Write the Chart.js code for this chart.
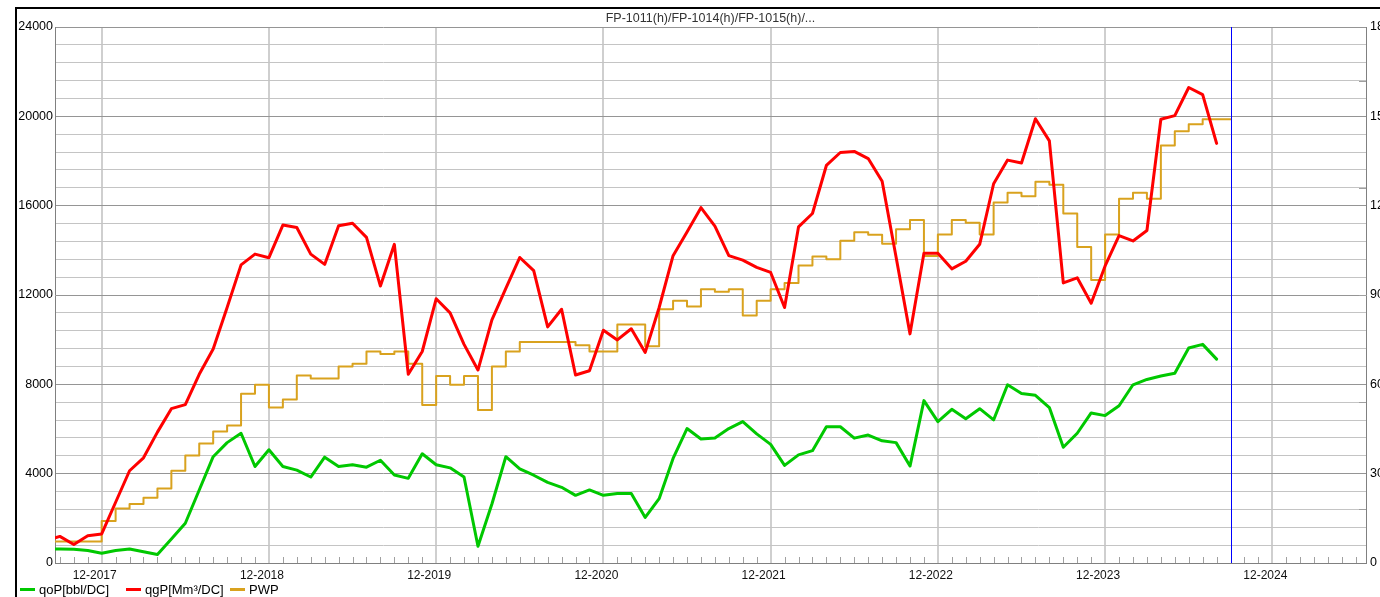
<!DOCTYPE html>
<html><head><meta charset="utf-8">
<script src="https://cdn.jsdelivr.net/npm/chart.js@4.4.1/dist/chart.umd.min.js"></script>
<style>
html,body{margin:0;padding:0;overflow:hidden;background:#fff;width:1380px;height:597px}
#wrap{position:absolute;left:0;top:0;width:1400px;height:597px}
</style>
</head><body><div id="wrap"><canvas id="c" width="1400" height="597"></canvas></div>
<script>
const chartTitle = 'FP-1011(h)/FP-1014(h)/FP-1015(h)/...';
const seriesLabels = ['qoP[bbl/DC]', 'qgP[Mm³/DC]', 'PWP'];
const months = [
 '2017-08','2017-09','2017-10','2017-11','2017-12',
 '2018-01','2018-02','2018-03','2018-04','2018-05','2018-06','2018-07','2018-08','2018-09','2018-10','2018-11','2018-12',
 '2019-01','2019-02','2019-03','2019-04','2019-05','2019-06','2019-07','2019-08','2019-09','2019-10','2019-11','2019-12',
 '2020-01','2020-02','2020-03','2020-04','2020-05','2020-06','2020-07','2020-08','2020-09','2020-10','2020-11','2020-12',
 '2021-01','2021-02','2021-03','2021-04','2021-05','2021-06','2021-07','2021-08','2021-09','2021-10','2021-11','2021-12',
 '2022-01','2022-02','2022-03','2022-04','2022-05','2022-06','2022-07','2022-08','2022-09','2022-10','2022-11','2022-12',
 '2023-01','2023-02','2023-03','2023-04','2023-05','2023-06','2023-07','2023-08','2023-09','2023-10','2023-11','2023-12',
 '2024-01','2024-02','2024-03','2024-04','2024-05','2024-06','2024-07','2024-08','2024-09'
];
// qoP [bbl/DC] - left axis (2017-08 .. 2024-08)
const oilRate = [
 630,630,620,560,440,560,630,500,380,1070,
 1780,3270,4760,5390,5810,4320,5070,4320,4160,3850,
 4740,4320,4400,4290,4600,3940,3790,4890,4400,4260,
 3850,750,2640,4760,4210,3930,3610,3390,3030,3270,
 3030,3110,3110,2040,2880,4680,6020,5550,5600,6020,
 6330,5780,5310,4370,4840,5030,6100,6100,5590,5730,
 5470,5390,4340,7270,6330,6880,6460,6910,6410,7980,
 7590,7510,6960,5180,5810,6720,6600,7040,7980,8220,
 8370,8500,9630,9790,9130
];
// qgP [Mm³/DC] - left axis (2017-08 .. 2024-08)
const gasRate = [
 1000,1190,830,1220,1300,2720,4130,4710,5860,6910,
 7090,8450,9580,11440,13350,13830,13670,15130,15020,13830,
 13370,15100,15210,14580,12400,14270,8450,9470,11830,11200,
 9790,8640,10890,12300,13680,13090,10570,11360,8420,8610,
 10420,9990,10490,9430,11440,13760,14820,15910,15080,13760,
 13560,13240,13010,11440,15050,15650,17800,18380,18430,18110,
 17090,13700,10260,13870,13870,13170,13510,14270,16980,18040,
 17910,19890,18900,12540,12770,11630,13300,14660,14420,14890,
 19870,20030,21290,20970,18790
];
// PWP - right axis (2017-08 .. 2024-09), step values
const pwp = [
 72,72,72,72,141,183,198,219,250,310,
 361,401,442,462,568,599,522,549,630,620,
 620,660,669,710,702,710,669,531,628,599,
 628,514,660,710,742,742,742,742,731,710,
 710,801,801,728,852,881,861,919,911,919,
 831,881,919,940,999,1029,1020,1082,1111,1102,
 1072,1121,1152,1031,1103,1152,1143,1103,1211,1243,
 1232,1280,1270,1174,1061,950,1103,1223,1243,1223,
 1402,1450,1473,1490,1490,1490
];
const xTickMonths = ['2017-12','2018-12','2019-12','2020-12','2021-12','2022-12','2023-12','2024-12'];
const leftTicks = [0,800,1600,2400,3200,4000,4800,5600,6400,7200,8000,8800,9600,10400,11200,12000,12800,13600,14400,15200,16000,16800,17600,18400,19200,20000,20800,21600,22400,23200,24000];
const leftLabelStep = 4000;
const rightTicks = [0,300,600,900,1200,1500,1800];
const rightMinorMarks = [180,540,900,1260,1620];
const forecastStart = '2024-09';

const mi = s => (parseInt(s.slice(0,4),10) - 2017) * 12 + parseInt(s.slice(5,7),10) - 1;
const FONT = '"Liberation Sans", Arial, sans-serif';
Chart.defaults.font.family = FONT;

const decor = {
  id: 'decor',
  beforeDraw(chart) {
    const ctx = chart.ctx;
    ctx.save();
    ctx.fillStyle = '#fff';
    ctx.fillRect(0, 0, chart.width, chart.height);
    ctx.fillStyle = '#000';
    ctx.fillRect(16, 7, chart.width - 16, 2);
    ctx.fillRect(15, 7, 2, chart.height - 7);
    ctx.restore();
  },
  beforeDatasetsDraw(chart) {
    const ctx = chart.ctx, a = chart.chartArea, xs = chart.scales.x, y2 = chart.scales.y2;
    ctx.save();
    ctx.strokeStyle = '#a0a0a0';
    ctx.lineWidth = 1;
    ctx.beginPath();
    for (let m = Math.ceil(xs.min); m <= Math.floor(xs.max); m++) {
      if (m % 12 === 11) continue;
      const px = Math.round(xs.getPixelForValue(m)) + 0.5;
      ctx.moveTo(px, a.bottom - 6);
      ctx.lineTo(px, a.bottom);
    }
    rightMinorMarks.forEach(v => {
      const py = Math.round(y2.getPixelForValue(v)) + 0.5;
      ctx.moveTo(a.right - 7, py);
      ctx.lineTo(a.right, py);
    });
    ctx.stroke();
    ctx.restore();
  },
  afterDatasetsDraw(chart) {
    const ctx = chart.ctx, a = chart.chartArea, xs = chart.scales.x;
    const px = Math.round(xs.getPixelForValue(mi(forecastStart))) + 0.5;
    ctx.save();
    ctx.strokeStyle = '#0000ff';
    ctx.lineWidth = 1;
    ctx.beginPath();
    ctx.moveTo(px, a.top);
    ctx.lineTo(px, a.bottom);
    ctx.stroke();
    ctx.restore();
  },
  afterDraw(chart) {
    const ctx = chart.ctx, a = chart.chartArea;
    ctx.save();
    ctx.fillStyle = '#333';
    ctx.font = '12.5px ' + FONT;
    ctx.textAlign = 'center';
    ctx.textBaseline = 'middle';
    ctx.fillText(chartTitle, (a.left + a.right) / 2, 18.5);
    const slots = [20, 126, 230];
    ctx.textAlign = 'left';
    ctx.font = '13px ' + FONT;
    chart.data.datasets.forEach((ds, i) => {
      ctx.strokeStyle = ds.borderColor;
      ctx.lineWidth = 3;
      ctx.beginPath();
      ctx.moveTo(slots[i], 589.5);
      ctx.lineTo(slots[i] + 15, 589.5);
      ctx.stroke();
      ctx.fillStyle = '#000';
      ctx.fillText(ds.label, slots[i] + 19, 590);
    });
    ctx.restore();
  }
};

new Chart(document.getElementById('c'), {
  type: 'line',
  data: {
    datasets: [
      { label: seriesLabels[0], data: oilRate.map((v, i) => ({ x: mi(months[i]), y: v })),
        borderColor: '#00c800', borderWidth: 3, yAxisID: 'y', order: 2 },
      { label: seriesLabels[1], data: gasRate.map((v, i) => ({ x: mi(months[i]), y: v })),
        borderColor: '#ff0000', borderWidth: 3, yAxisID: 'y', order: 1 },
      { label: seriesLabels[2], data: pwp.map((v, i) => ({ x: mi(months[i]), y: v })),
        borderColor: '#d9a21e', borderWidth: 2, yAxisID: 'y2', stepped: 'before', order: 3 }
    ]
  },
  options: {
    responsive: false,
    animation: false,
    devicePixelRatio: 1,
    layout: { padding: { top: 27, left: 0, right: 0, bottom: 0 } },
    elements: {
      point: { radius: 0, hoverRadius: 0 },
      line: { tension: 0, fill: false, borderJoinStyle: 'round', borderCapStyle: 'round' }
    },
    plugins: { legend: { display: false }, tooltip: { enabled: false }, title: { display: false } },
    scales: {
      x: {
        type: 'linear', position: 'bottom', min: 7.65, max: 101.72,
        afterBuildTicks: s => { s.ticks = xTickMonths.map(m => ({ value: mi(m) })); },
        afterFit: s => { s.height = 34; },
        ticks: {
          autoSkip: false, maxRotation: 0, minRotation: 0, padding: 5, labelOffset: -7,
          color: '#111', font: { size: 12 },
          callback: v => '12-' + (2017 + Math.floor(v / 12))
        },
        grid: { color: '#cfcfcf', lineWidth: 2, drawTicks: false },
        border: { color: '#808080', width: 1 }
      },
      y: {
        position: 'left', min: 0, max: 24000,
        afterBuildTicks: s => { s.ticks = leftTicks.map(v => ({ value: v })); },
        afterFit: s => { s.width = 55; },
        ticks: {
          autoSkip: false, padding: 2, color: '#000', font: { size: 12.5 },
          callback: v => (v % leftLabelStep === 0 ? String(v) : '')
        },
        grid: {
          color: c => (c.tick && c.tick.value % leftLabelStep === 0 ? '#959595' : '#c4c4c4'),
          lineWidth: 1, drawTicks: false
        },
        border: { color: '#808080', width: 1 }
      },
      y2: {
        position: 'right', min: 0, max: 1800,
        afterBuildTicks: s => { s.ticks = rightTicks.map(v => ({ value: v })); },
        afterFit: s => { s.width = 34; },
        ticks: { autoSkip: false, padding: 4, color: '#000', font: { size: 12.5 }, callback: v => String(v) },
        grid: { drawOnChartArea: false, drawTicks: false },
        border: { color: '#808080', width: 1 }
      }
    }
  },
  plugins: [decor]
});
</script>
</body></html>
